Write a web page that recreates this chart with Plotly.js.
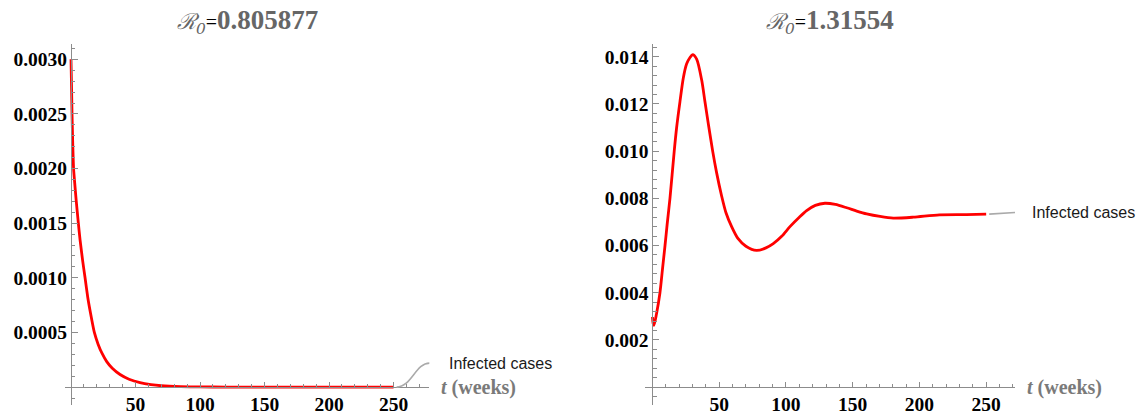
<!DOCTYPE html>
<html>
<head>
<meta charset="utf-8">
<script src="https://cdn.plot.ly/plotly-3.0.1.min.js"></script>
<style>html,body{margin:0;padding:0;background:#fff;}#chart{width:1137px;height:416px;}</style>
</head>
<body>
<div id="chart"></div>
<script>
// ---- Data ----
const tLow = [0, 0.4, 0.8, 1.3, 2, 3, 4, 5.7, 7, 9, 10.9, 13, 15, 18.1, 21, 24, 27.7, 32, 38, 45, 53.5, 62, 70, 85, 100, 120, 150, 200, 250];
const iLow = [0.0030, 0.00276, 0.0025, 0.00225, 0.0020, 0.00185, 0.00171, 0.0015, 0.00135, 0.00116, 0.0010, 0.00082, 0.000685, 0.0005, 0.000393, 0.00031, 0.000233, 0.000172, 0.000115, 0.000072, 0.00004, 0.000022, 0.000012, 0.000004, 0.0000012, 0.0000003, 0, 0, 0];

const tHigh = [0, 0.5, 1.1, 3, 5.6, 7.5, 9.4, 11, 13.1, 16.3, 18.1, 20.6, 23.1, 25.6, 28.1, 30.1, 33.1, 36.9, 39.3, 42, 45.1, 48, 51.8, 55, 59.3, 64, 70, 78, 85, 90.5, 97, 103, 110, 115.5, 122, 129.2, 137, 145.5, 153, 160.5, 170.5, 180.4, 195.4, 215, 235.3, 250];
const iHigh = [0.00297, 0.0027, 0.00262, 0.0031, 0.0040, 0.0050, 0.0060, 0.0069, 0.0080, 0.0100, 0.0110, 0.0121, 0.0131, 0.0137, 0.01397, 0.01409, 0.0139, 0.0130, 0.0121, 0.0111, 0.0100, 0.0091, 0.0081, 0.0074, 0.0068, 0.0063, 0.00597, 0.00579, 0.0059, 0.00608, 0.0064, 0.0068, 0.0072, 0.00748, 0.0077, 0.00779, 0.00774, 0.0076, 0.00746, 0.00734, 0.00723, 0.00716, 0.0072, 0.0073, 0.00731, 0.00733];

const xTickVals = [50, 100, 150, 200, 250];
const yTicksLow = [0.0005, 0.0010, 0.0015, 0.0020, 0.0025, 0.0030];
const yTicksHigh = [0.002, 0.004, 0.006, 0.008, 0.010, 0.012, 0.014];
const r0Values = ['0.805877', '1.31554'];
const seriesLabel = 'Infected cases';
const xLabel = '<i>t</i> (weeks)';

// ---- Layout geometry ----
const W = 1137, H = 416;
const domX1 = [65 / W, 429.3 / W];
const domX2 = [645 / W, 1015 / W];
const domY = [(H - 405) / H, (H - 44) / H];
const rangeX1 = [-4.65, 277.7], rangeY1 = [-0.000164, 0.00314];
const rangeX2 = [-5.6, 271.6], rangeY2 = [-0.00076, 0.01454];

function posOfZero(dom, rng) {
  return dom[0] + (dom[1] - dom[0]) * (0 - rng[0]) / (rng[1] - rng[0]);
}

const axisGray = '#8c8c8c';
const tickFont = {family: 'Liberation Serif, Times New Roman, serif', size: 19.5, color: '#000', weight: 'bold'};

function xAxis(dom, rng, yDom, yRng) {
  return {
    domain: dom, range: rng, anchor: 'free', position: posOfZero(yDom, yRng),
    showline: true, linecolor: axisGray, linewidth: 1,
    showgrid: false, zeroline: false,
    tickmode: 'array', tickvals: xTickVals, ticks: 'inside', ticklen: 5, tickcolor: axisGray, tickwidth: 1,
    minor: {tickmode: 'linear', tick0: 0, dtick: 10, ticks: 'inside', ticklen: 3, tickcolor: axisGray, tickwidth: 1, showgrid: false},
    tickfont: tickFont, fixedrange: true
  };
}
function yAxis(dom, rng, xDom, xRng, vals, fmt, minorStep) {
  return {
    domain: dom, range: rng, anchor: 'free', position: posOfZero(xDom, xRng),
    showline: true, linecolor: axisGray, linewidth: 1,
    showgrid: false, zeroline: false,
    tickmode: 'array', tickvals: vals, tickformat: fmt, ticks: 'inside', ticklen: 6, tickcolor: axisGray, tickwidth: 1,
    minor: {tickmode: 'linear', tick0: 0, dtick: minorStep, ticks: 'inside', ticklen: 3.5, tickcolor: axisGray, tickwidth: 1, showgrid: false},
    tickfont: tickFont, fixedrange: true
  };
}

const traces = [
  {x: tLow, y: iLow, xaxis: 'x', yaxis: 'y', type: 'scatter', mode: 'lines',
   line: {color: '#ff0000', width: 2.8, shape: 'spline', smoothing: 0.5}, hoverinfo: 'skip', showlegend: false},
  {x: tHigh, y: iHigh, xaxis: 'x2', yaxis: 'y2', type: 'scatter', mode: 'lines',
   line: {color: '#ff0000', width: 2.8, shape: 'spline', smoothing: 0.75}, hoverinfo: 'skip', showlegend: false}
];

function titleText(v) {
  return '<span style="font-family:\'DejaVu Serif\';font-weight:normal;font-style:italic;font-size:22px">ℛ<sub>0</sub></span>' +
         '<span style="color:#000;font-weight:normal;font-size:20px">=</span>' + v;
}

const titleFont = {family: 'Liberation Serif, Times New Roman, serif', size: 27, color: '#666666', weight: 'bold'};
const axisTitleFont = {family: 'Liberation Serif, Times New Roman, serif', size: 20, color: '#7a7a7a', weight: 'bold'};
const labelFont = {family: 'Liberation Sans, Arial, sans-serif', size: 16, color: '#1a1a1a'};

const lastLow = tLow.length - 1, lastHigh = tHigh.length - 1;

const annotations = [
  {xref: 'x domain', yref: 'paper', x: 0.5, y: (H - 21) / H, xanchor: 'center', yanchor: 'middle',
   text: titleText(r0Values[0]), showarrow: false, font: titleFont},
  {xref: 'x2 domain', yref: 'paper', x: 0.5, y: (H - 21) / H, xanchor: 'center', yanchor: 'middle',
   text: titleText(r0Values[1]), showarrow: false, font: titleFont},
  {xref: 'x domain', yref: 'y', x: 1, y: 0, xanchor: 'left', yanchor: 'middle', xshift: 10,
   text: xLabel, showarrow: false, font: axisTitleFont},
  {xref: 'x2 domain', yref: 'y2', x: 1, y: 0, xanchor: 'left', yanchor: 'middle', xshift: 10,
   text: xLabel, showarrow: false, font: axisTitleFont},
  {xref: 'x', yref: 'y', x: tLow[lastLow], y: iLow[lastLow], xanchor: 'left', yanchor: 'middle',
   xshift: 53, yshift: 24, text: seriesLabel, showarrow: false, font: labelFont},
  {xref: 'x2', yref: 'y2', x: tHigh[lastHigh], y: iHigh[lastHigh], xanchor: 'left', yanchor: 'middle',
   xshift: 44, yshift: 1.5, text: seriesLabel, showarrow: false, font: labelFont}
];

const shapes = [
  {type: 'path', xref: 'x', yref: 'y', xsizemode: 'pixel', ysizemode: 'pixel',
   xanchor: tLow[lastLow], yanchor: iLow[lastLow],
   path: 'M 3,0 C 18,0 22,24 36,24 L 46,24', line: {color: '#aaaaaa', width: 1.6}},
  {type: 'path', xref: 'x2', yref: 'y2', xsizemode: 'pixel', ysizemode: 'pixel',
   xanchor: tHigh[lastHigh], yanchor: iHigh[lastHigh],
   path: 'M 3,0 L 36,2', line: {color: '#aaaaaa', width: 1.6}}
];

const layout = {
  width: W, height: H, margin: {l: 0, r: 0, t: 0, b: 0},
  paper_bgcolor: '#fff', plot_bgcolor: '#fff', showlegend: false,
  xaxis: xAxis(domX1, rangeX1, domY, rangeY1),
  yaxis: yAxis(domY, rangeY1, domX1, rangeX1, yTicksLow, '.4f', 0.0001),
  xaxis2: xAxis(domX2, rangeX2, domY, rangeY2),
  yaxis2: yAxis(domY, rangeY2, domX2, rangeX2, yTicksHigh, '.3f', 0.0004),
  annotations: annotations, shapes: shapes
};

Plotly.newPlot('chart', traces, layout, {staticPlot: true, displayModeBar: false});
</script>
</body>
</html>
